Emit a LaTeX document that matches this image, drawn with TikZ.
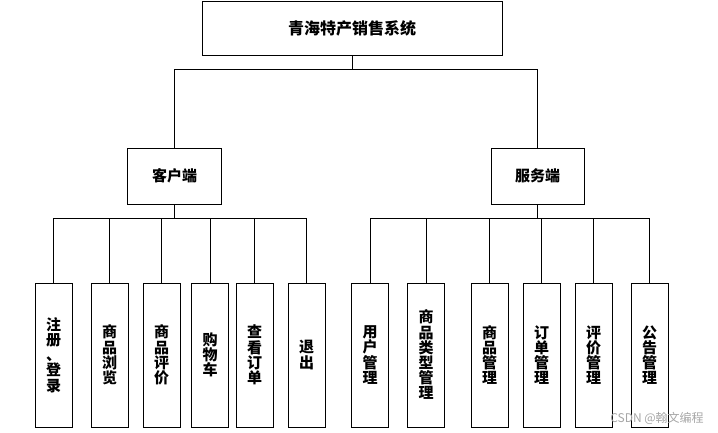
\documentclass[tikz,border=0pt]{standalone}
\usepackage{fontspec}
\newfontfamily\cjk{Noto Sans CJK SC}
\begin{document}
\begin{tikzpicture}[x=1pt,y=-1pt,
  box/.style={draw=black,line width=0.9pt,rectangle,inner sep=0pt,align=center,font=\cjk\bfseries\fontsize{15}{15}\selectfont},
  child/.style={box,minimum width=37pt,minimum height=144pt,font=\cjk\bfseries\fontsize{15}{15.2}\selectfont},
  conn/.style={line width=0.9pt,draw=black}]
\useasboundingbox (0,0) rectangle (718,432);
\node[box,minimum width=300pt,minimum height=54pt,font=\cjk\bfseries\fontsize{16}{16}\selectfont] (top) at (352,28) {青海特产销售系统};
\node[box,minimum width=94pt,minimum height=56pt] (client) at (174.5,176) {客户端};
\node[box,minimum width=93pt,minimum height=56pt] (server) at (537.5,176) {服务端};
% client children
\node[child] (c1) at (53.5,355) {注\\册\\、\\登\\录};
\node[child] (c2) at (109.5,355) {商\\品\\浏\\览};
\node[child] (c3) at (161.5,355) {商\\品\\评\\价};
\node[child] (c4) at (210,355) {购\\物\\车};
\node[child] (c5) at (254.5,355) {查\\看\\订\\单};
\node[child] (c6) at (306.5,355) {退\\出};
% server children
\node[child] (s1) at (370,355) {用\\户\\管\\理};
\node[child] (s2) at (426,355) {商\\品\\类\\型\\管\\理};
\node[child] (s3) at (489.5,355) {商\\品\\管\\理};
\node[child] (s4) at (541.5,355) {订\\单\\管\\理};
\node[child] (s5) at (593.5,355) {评\\价\\管\\理};
\node[child] (s6) at (649.5,355) {公\\告\\管\\理};
% connectors
\coordinate (tb) at (top.south |- 0,69);
\draw[conn] (top.south) -- (tb);
\draw[conn] (tb) -| (client.north);
\draw[conn] (tb) -| (server.north);
\coordinate (cb) at (client.south |- 0,218);
\draw[conn] (client.south) -- (cb);
\foreach \n in {c1,c2,c3,c4,c5,c6} \draw[conn] (cb) -| (\n.north);
\coordinate (sb) at (server.south |- 0,218);
\draw[conn] (server.south) -- (sb);
\foreach \n in {s1,s2,s3,s4,s5,s6} \draw[conn] (sb) -| (\n.north);
% watermark
\node[text=black!35,font=\cjk\fontsize{12}{12}\selectfont,inner sep=0pt] (wm) at (657,418) {CSDN @翰文编程};
\end{tikzpicture}
\end{document}
